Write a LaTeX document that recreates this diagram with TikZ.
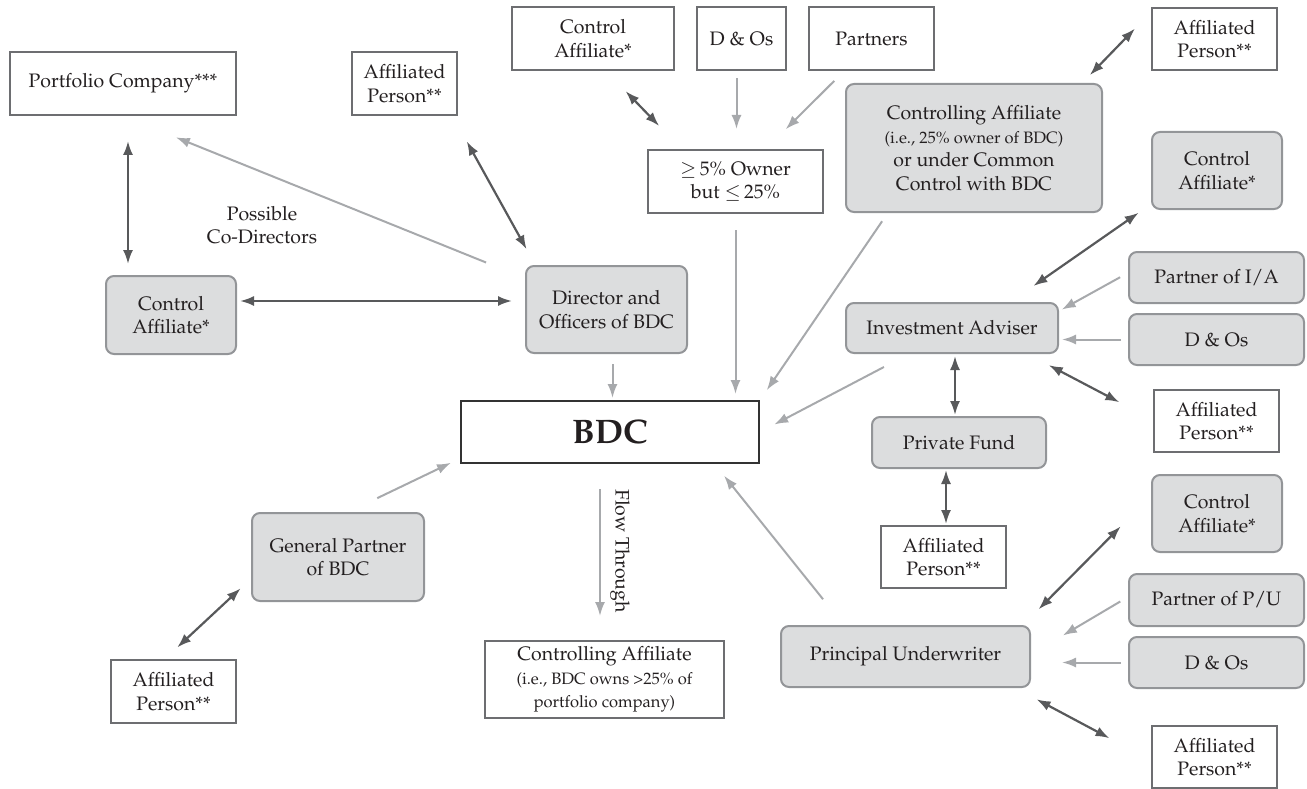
\documentclass[tikz,border=0pt]{standalone}
\usepackage[T1]{fontenc}
\usepackage{mathpazo}
\usetikzlibrary{arrows.meta}

\definecolor{inkblack}{HTML}{231F20}
\definecolor{boxfill}{HTML}{DCDDDE}
\definecolor{shadeedge}{HTML}{939598}
\definecolor{plainedge}{HTML}{6D6E71}
\definecolor{bdcedge}{HTML}{333333}
\definecolor{darkline}{HTML}{58595B}
\definecolor{lightline}{HTML}{A7A9AC}

\newcommand{\smtxt}{\fontsize{16.5}{20}\selectfont}

\begin{document}
\begin{tikzpicture}[x=1pt, y=-1pt,
    txt/.style={font=\fontsize{19.5}{23.5}\selectfont, text=inkblack, align=center, inner sep=0pt},
    plain/.style={txt, draw=plainedge, line width=2pt, fill=white},
    shaded/.style={txt, draw=shadeedge, line width=2pt, fill=boxfill, rounded corners=8pt},
    dbl/.style={{Latex[length=14pt,width=10pt]}-{Latex[length=14pt,width=10pt]}, draw=darkline, line width=2.2pt},
    one/.style={-{Latex[length=14pt,width=10pt]}, draw=lightline, line width=2pt}]

    \useasboundingbox (0,0) rectangle (1307,789);

    % left side
    \node[plain, minimum width=226pt, minimum height=63pt] (port) at (123,83.5) {Portfolio Company***};
    \node[plain, minimum width=105pt, minimum height=63pt] (apTop) at (404.5,83.5) {Affiliated\\Person**};
    \node[shaded, minimum width=130pt, minimum height=78pt] (caL) at (171,315) {Control\\Affiliate*};
    \node[shaded, minimum width=161pt, minimum height=87pt] (dir) at (606.5,309.5) {Director and\\Officers of BDC};
    \node[txt] (codir) at (262,225) {Possible\\Co-Directors};
    \node[shaded, minimum width=172pt, minimum height=88pt] (gp) at (338,557) {General Partner\\of BDC};
    \node[plain, minimum width=125pt, minimum height=63pt] (apBL) at (173.5,691.5) {Affiliated\\Person**};

    % top
    \node[plain, minimum width=162pt, minimum height=63pt] (caTop) at (593,38.5) {Control\\Affiliate*};
    \node[plain, minimum width=89pt, minimum height=63pt] (doTop) at (741.5,38.5) {D \& Os};
    \node[plain, minimum width=125pt, minimum height=63pt] (partners) at (871.5,38.5) {Partners};
    \node[plain, minimum width=175pt, minimum height=63pt] (owner) at (735.5,181.5)
        {$\geq$\,5\% Owner\\but $\leq$\,25\%};
    \node[shaded, minimum width=256pt, minimum height=128pt] (ctrlAff) at (974,148)
        {Controlling Affiliate\\{\smtxt (i.e., 25\% owner of BDC)}\\or under Common\\Control with BDC};
    \node[plain, minimum width=125pt, minimum height=62pt] (apTR) at (1214.5,39) {Affiliated\\Person**};

    % centre
    \node[plain, draw=bdcedge, minimum width=298pt, minimum height=62pt,
        font=\fontsize{34}{40}\selectfont\bfseries] (bdc) at (610,432) {BDC};
    \node[txt, rotate=-90] (flow) at (620,551) {Flow Through};
    \node[plain, minimum width=239pt, minimum height=77pt] (caBot) at (604.5,679.5)
        {Controlling Affiliate\\{\smtxt (i.e., BDC owns >25\% of}\\{\smtxt portfolio company)}};

    % investment adviser group
    \node[shaded, minimum width=130pt, minimum height=77pt] (caR) at (1217,170.5) {Control\\Affiliate*};
    \node[shaded, minimum width=175pt, minimum height=51pt] (pIA) at (1216.5,277.5) {Partner of I/A};
    \node[shaded, minimum width=175pt, minimum height=51pt] (doIA) at (1216.5,339.5) {D \& Os};
    \node[shaded, minimum width=212pt, minimum height=50pt] (ia) at (952,328) {Investment Adviser};
    \node[plain, minimum width=125pt, minimum height=62pt] (apIA) at (1216.5,421) {Affiliated\\Person**};
    \node[shaded, minimum width=174pt, minimum height=51pt] (pf) at (959,442.5) {Private Fund};
    \node[plain, minimum width=125pt, minimum height=62pt] (apPF) at (943.5,557) {Affiliated\\Person**};

    % principal underwriter group
    \node[shaded, minimum width=130pt, minimum height=77pt] (caPU) at (1217,513.5) {Control\\Affiliate*};
    \node[shaded, minimum width=175pt, minimum height=52pt] (pPU) at (1216.5,600) {Partner of P/U};
    \node[shaded, minimum width=175pt, minimum height=51pt] (doPU) at (1216.5,662.5) {D \& Os};
    \node[shaded, minimum width=249pt, minimum height=61pt] (pu) at (905.5,656.5) {Principal Underwriter};
    \node[plain, minimum width=125pt, minimum height=62pt] (apPU) at (1214.5,757) {Affiliated\\Person**};

    % connectors
    \draw[dbl, shorten <=25pt, shorten >=11pt] ([xshift=5pt]port.south) -- ([xshift=5pt]port.south |- caL.north);
    \draw[one, shorten <=42pt, shorten >=57pt] (dir.159) -- (port.south);
    \draw[dbl, shorten <=29pt, shorten >=18pt] (apTop.-34) -- (dir.148);
    \draw[dbl, shorten <=3pt, shorten >=13pt] ([yshift=14pt]caL.east) -- ([yshift=14pt]caL.east -| dir.west);
    \draw[one, shorten <=10pt, shorten >=2pt] ([xshift=6pt]dir.south) -- ([xshift=6pt]dir.south |- bdc.north);
    \draw[one, shorten <=32pt, shorten >=10pt] (gp.77) -- (bdc.190);
    \draw[dbl, shorten <=17pt, shorten >=14pt] (apBL.105) -- (gp.194);

    \draw[dbl, shorten <=28pt, shorten >=32pt] (caTop.-68) -- (owner.149);
    \draw[one, shorten <=7pt, shorten >=20pt] ([xshift=-5pt]doTop.south) -- ([xshift=-5pt]doTop.south |- owner.north);
    \draw[one, shorten <=14pt, shorten >=28pt] (partners.-130) -- (owner.47);
    \draw[one, shorten <=16pt, shorten >=6pt] (owner.south) -- (owner.south |- bdc.north);
    \draw[one, shorten <=10pt, shorten >=12pt] (ctrlAff.217) -- (bdc.12);
    \draw[dbl, shorten <=11pt, shorten >=23pt] (ctrlAff.31) -- (apTR.157);

    \draw[dbl, shorten <=15pt, shorten >=28pt] (caR.207) -- (ia.24);
    \draw[one, shorten <=9pt, shorten >=3pt] (pIA.177) -- (ia.9);
    \draw[one, shorten <=7pt, shorten >=3pt] (doIA.west) -- (doIA.west -| ia.east);
    \draw[dbl, shorten <=24pt, shorten >=38pt] (ia.-19) -- (apIA.179);
    \draw[dbl, shorten <=2pt, shorten >=1pt] ([xshift=3pt]ia.south) -- ([xshift=3pt]ia.south |- pf.north);
    \draw[one, shorten <=28pt, shorten >=16pt] (ia.211) -- (bdc.east);
    \draw[dbl, shorten <=1pt, shorten >=1pt] ([xshift=-13pt]pf.south) -- ([xshift=-13pt]pf.south |- apPF.north);

    \draw[one, shorten <=33pt, shorten >=15pt] (pu.153) -- (bdc.-17);
    \draw[dbl, shorten <=43pt, shorten >=22pt] (caPU.165) -- (pu.15);
    \draw[one, shorten <=9pt, shorten >=37pt] (pPU.178) -- (pu.1);
    \draw[one, shorten <=7pt, shorten >=31pt] (doPU.west) -- (doPU.west -| pu.east);
    \draw[dbl, shorten <=24pt, shorten >=47pt] (pu.-16) -- (apPU.183);

    \draw[one, shorten <=25pt, shorten >=24pt] ([xshift=-10pt]bdc.south) -- ([xshift=-10pt]bdc.south |- caBot.north);

\end{tikzpicture}
\end{document}
